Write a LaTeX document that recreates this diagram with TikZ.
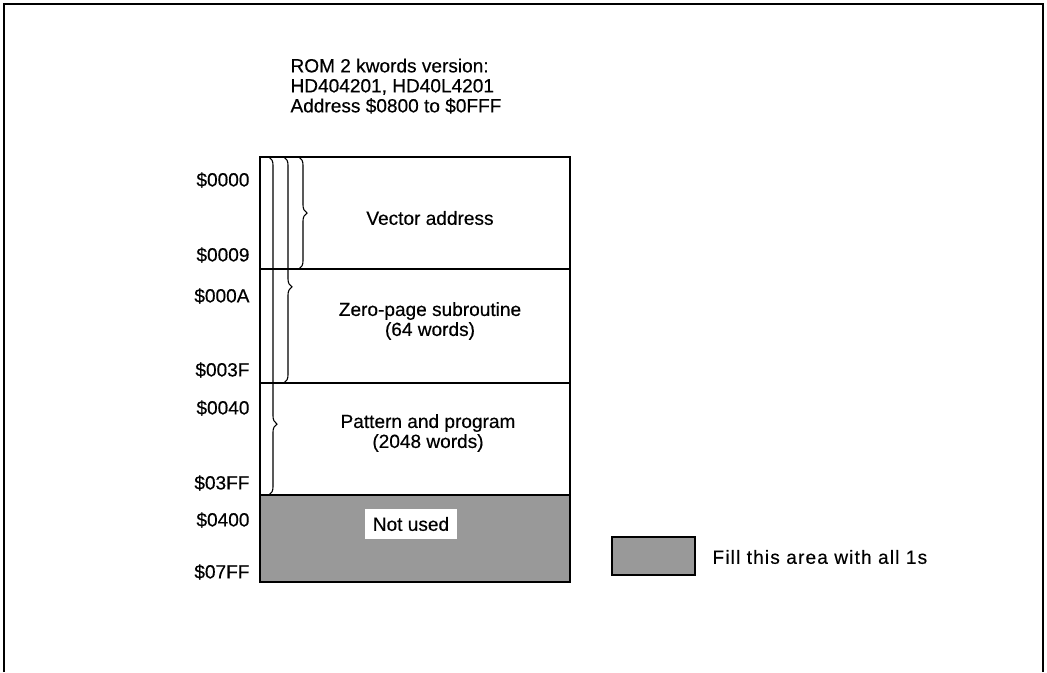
\documentclass[tikz,border=0pt]{standalone}
\usepackage{fontspec}
\setmainfont{Liberation Sans}[UprightFeatures={FakeBold=0.4}]
\usetikzlibrary{decorations.pathreplacing}

\begin{document}
\begin{tikzpicture}[x=0.75pt, y=-0.75pt, line width=0.8pt,
  font=\fontsize{14.3}{15}\selectfont,
  addr/.style={anchor=east, inner sep=0pt},
  area/.style={align=center, inner sep=0pt},
  brc/.style={decorate, decoration={brace, amplitude=6pt, aspect=#1}},
  ones/.style={fill=black!40}]
\useasboundingbox (0,0) rectangle (1047,672);
\draw[line width=1.5pt] (4,672) -- (4,4) -- (1043,4) -- (1043,672);
\node[anchor=north west, align=left, inner sep=0pt] (title) at (290,58)
  {ROM 2 kwords version:\\HD404201, HD40L4201\\Address \$0800 to \$0FFF};
\coordinate (tl) at (260,157);
\coordinate (br) at (570,582);
\fill[ones] (260,495) rectangle (br);
\draw (260,269) -- (570,269);
\draw (260,383) -- (570,383);
\draw (260,495) -- (570,495);
\draw[line width=1.3pt] (tl) rectangle (br);
\draw[brc=0.5] (299,157) -- (299,269);
\draw[brc=0.575] (284,157) -- (284,383);
\draw[brc=0.79] (269,157) -- (269,495);
\foreach \a/\y in {0000/180, 0009/255, 000A/296, 003F/370, 0040/408, 03FF/483, 0400/520, 07FF/572}
  \node[addr] (a\a) at (250,\y) {\$\a};
\node[area] (vec) at (430,218) {Vector address};
\node[area] (zero) at (430,321) {Zero-page subroutine\\(64 words)};
\node[area] (prog) at (428,433) {Pattern and program\\(2048 words)};
\node[fill=white, inner xsep=6pt, inner ysep=6pt] (unused) at (411,524) {Not used};
\draw[ones] (612,537) rectangle (695,575);
\node[anchor=west, inner sep=0pt] (legend) at (712,557)
  {\addfontfeature{LetterSpace=6}Fill this area with all 1s};
\end{tikzpicture}
\end{document}
